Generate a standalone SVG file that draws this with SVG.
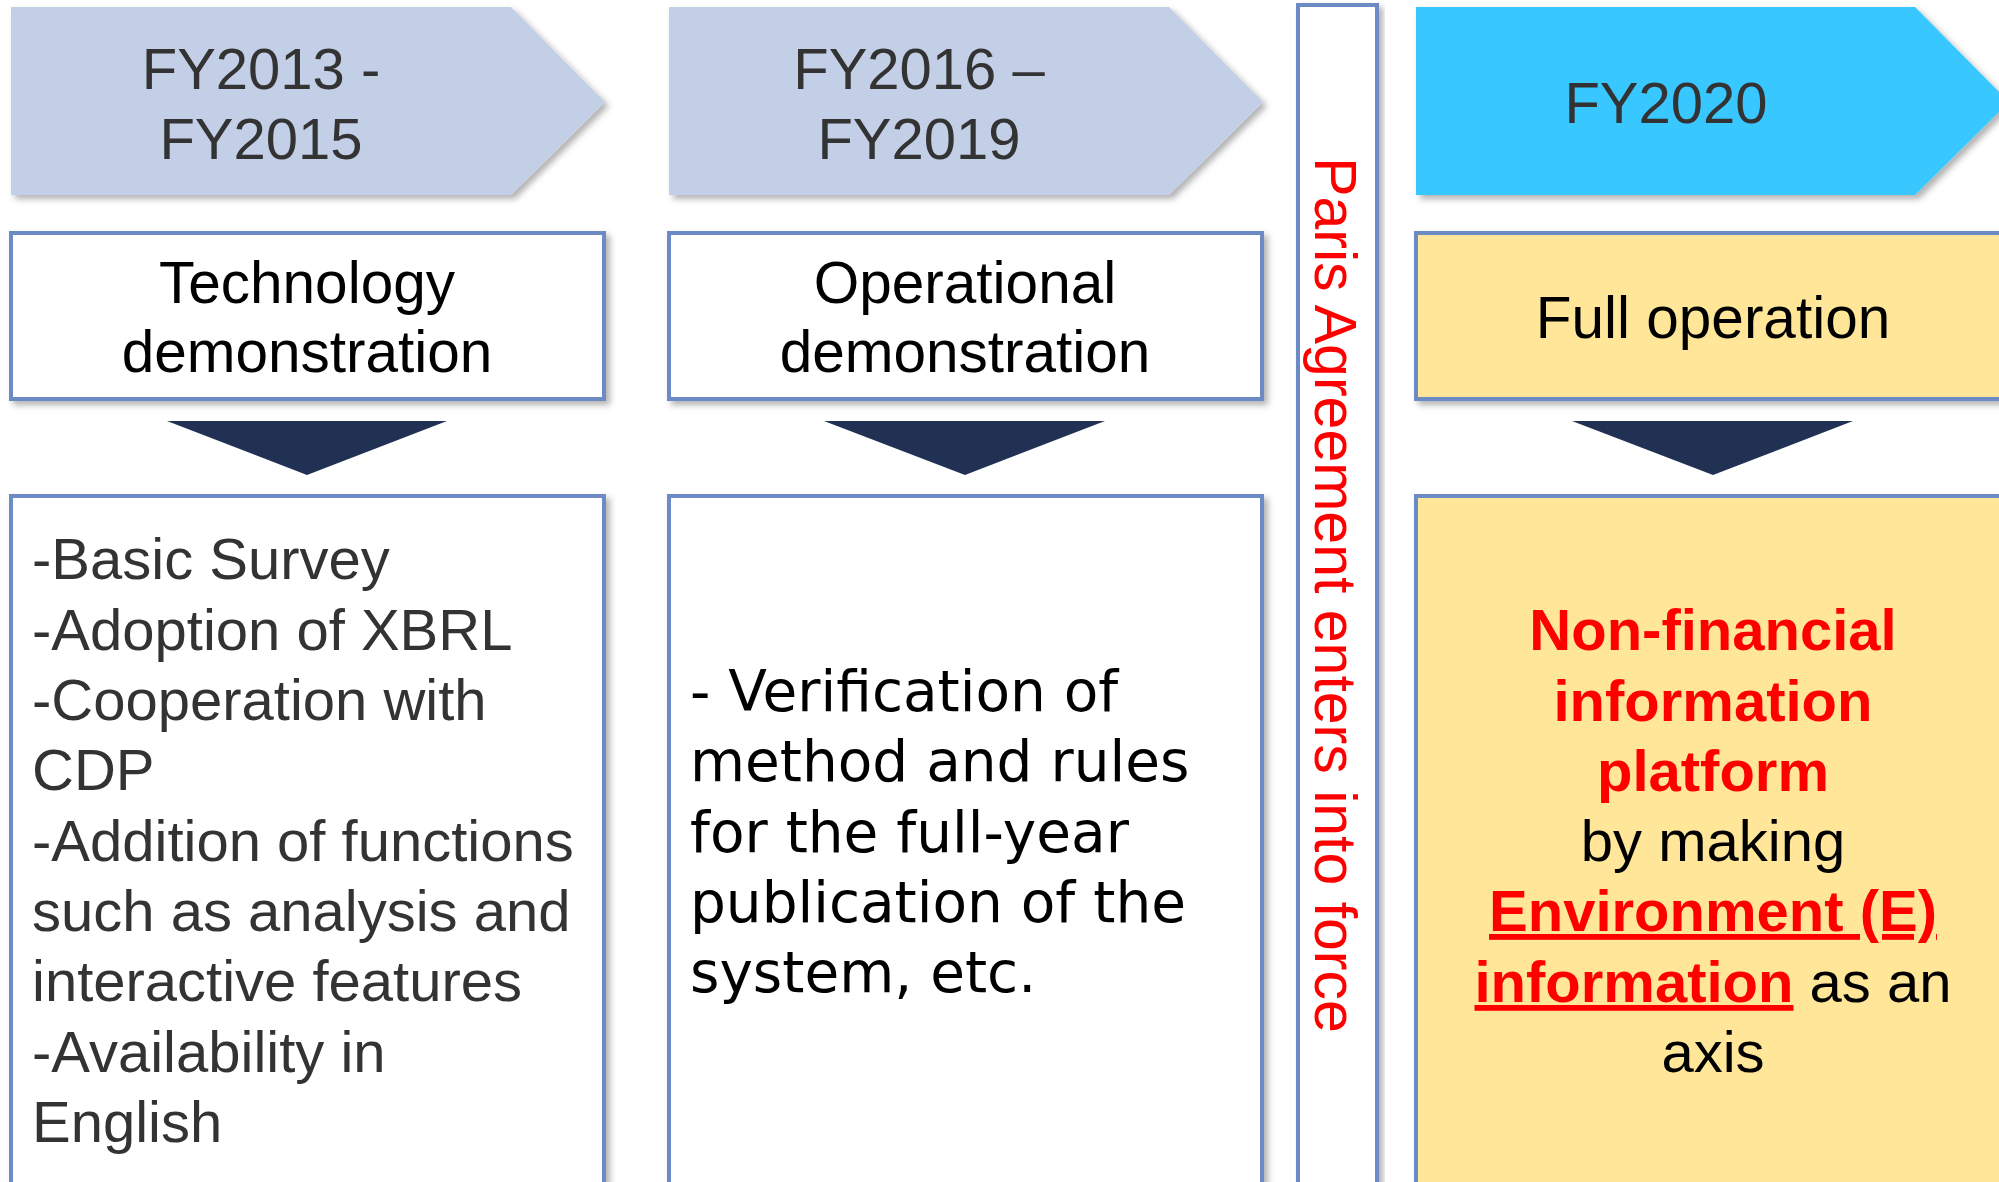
<svg xmlns="http://www.w3.org/2000/svg" width="1999" height="1182" viewBox="0 0 1999 1182">
<defs>
<filter id="sh" x="-5%" y="-5%" width="115%" height="115%">
<feDropShadow dx="4" dy="4" stdDeviation="3" flood-color="#000" flood-opacity="0.3"/>
</filter>
</defs>
<style>
.period{fill:#C3CFE6;filter:url(#sh)}
.now{fill:#39C7FF;filter:url(#sh)}
.box{fill:#FFFFFF;stroke:#6C8BC4;stroke-width:4;filter:url(#sh)}
.ybox{fill:#FFE699;stroke:#6C8BC4;stroke-width:4;filter:url(#sh)}
.tri{fill:#213154}
.fy{font-family:"Liberation Sans",Arial,sans-serif;font-size:58px;fill:#333333;text-anchor:middle}
.stage{font-family:"Liberation Sans",Arial,sans-serif;font-size:58.5px;fill:#000000;text-anchor:middle}
.list{font-family:"Liberation Sans",Arial,sans-serif;font-size:58px;fill:#333333}
.list2{font-family:"DejaVu Sans",sans-serif;font-size:56.5px;fill:#000000}
.red{font-family:"Liberation Sans",Arial,sans-serif;font-size:59px;fill:#FF0000}
.main{font-family:"Liberation Sans",Arial,sans-serif;font-size:58px;fill:#000000;text-anchor:middle}
.b{font-weight:bold;fill:#FF0000}
.u{text-decoration:underline}
</style>

<g id="period1">
<polygon class="period" points="11,7 511,7 605,102 511,195 11,195"/>
<text class="fy" x="261" y="89">FY2013 -</text>
<text class="fy" x="261" y="159">FY2015</text>
</g>
<g id="period2">
<polygon class="period" points="669,7 1169,7 1263,102 1169,195 669,195"/>
<text class="fy" x="919" y="89">FY2016 –</text>
<text class="fy" x="919" y="159">FY2019</text>
</g>
<g id="period3">
<polygon class="now" points="1416,7 1915,7 2009,102 1915,195 1416,195"/>
<text class="fy" x="1666" y="123">FY2020</text>
</g>

<g id="stage1">
<rect class="box" x="11" y="233" width="593" height="166"/>
<text class="stage" x="307" y="303">Technology</text>
<text class="stage" x="307" y="372">demonstration</text>
</g>
<g id="stage2">
<rect class="box" x="669" y="233" width="593" height="166"/>
<text class="stage" x="965" y="303">Operational</text>
<text class="stage" x="965" y="372">demonstration</text>
</g>
<g id="stage3">
<rect class="ybox" x="1416" y="233" width="600" height="166"/>
<text class="stage" x="1713" y="338">Full operation</text>
</g>

<g id="connectors">
<polygon class="tri" points="167,421 447,421 307,475"/>
<polygon class="tri" points="824,421 1105,421 965,475"/>
<polygon class="tri" points="1572,421 1853,421 1713,475"/>
</g>

<g id="detail1">
<rect class="box" x="11" y="496" width="593" height="720"/>
<text class="list" x="32" y="579">-Basic Survey</text>
<text class="list" x="32" y="650">-Adoption of XBRL</text>
<text class="list" x="32" y="720">-Cooperation with</text>
<text class="list" x="32" y="790">CDP</text>
<text class="list" x="32" y="861">-Addition of functions</text>
<text class="list" x="32" y="931">such as analysis and</text>
<text class="list" x="32" y="1001">interactive features</text>
<text class="list" x="32" y="1072">-Availability in</text>
<text class="list" x="32" y="1142">English</text>
</g>

<g id="detail2">
<rect class="box" x="669" y="496" width="593" height="720"/>
<text class="list2" x="690" y="711">- Verification of</text>
<text class="list2" x="690" y="781">method and rules</text>
<text class="list2" x="690" y="852">for the full-year</text>
<text class="list2" x="690" y="922">publication of the</text>
<text class="list2" x="690" y="992">system, etc.</text>
</g>

<g id="detail3">
<rect class="ybox" x="1416" y="496" width="600" height="720"/>
<text class="main" x="1713" y="650"><tspan class="b">Non-financial</tspan></text>
<text class="main" x="1713" y="721"><tspan class="b">information</tspan></text>
<text class="main" x="1713" y="791"><tspan class="b">platform</tspan></text>
<text class="main" x="1713" y="861">by making</text>
<text class="main" x="1713" y="931"><tspan class="b u">Environment (E)</tspan></text>
<text class="main" x="1713" y="1002"><tspan class="b u">information</tspan> as an</text>
<text class="main" x="1713" y="1072">axis</text>
</g>

<g id="paris">
<rect class="box" x="1298" y="5" width="79" height="1210"/>
<text class="red" text-anchor="middle" transform="translate(1315,595) rotate(90)">Paris Agreement enters into force</text>
</g>
</svg>
